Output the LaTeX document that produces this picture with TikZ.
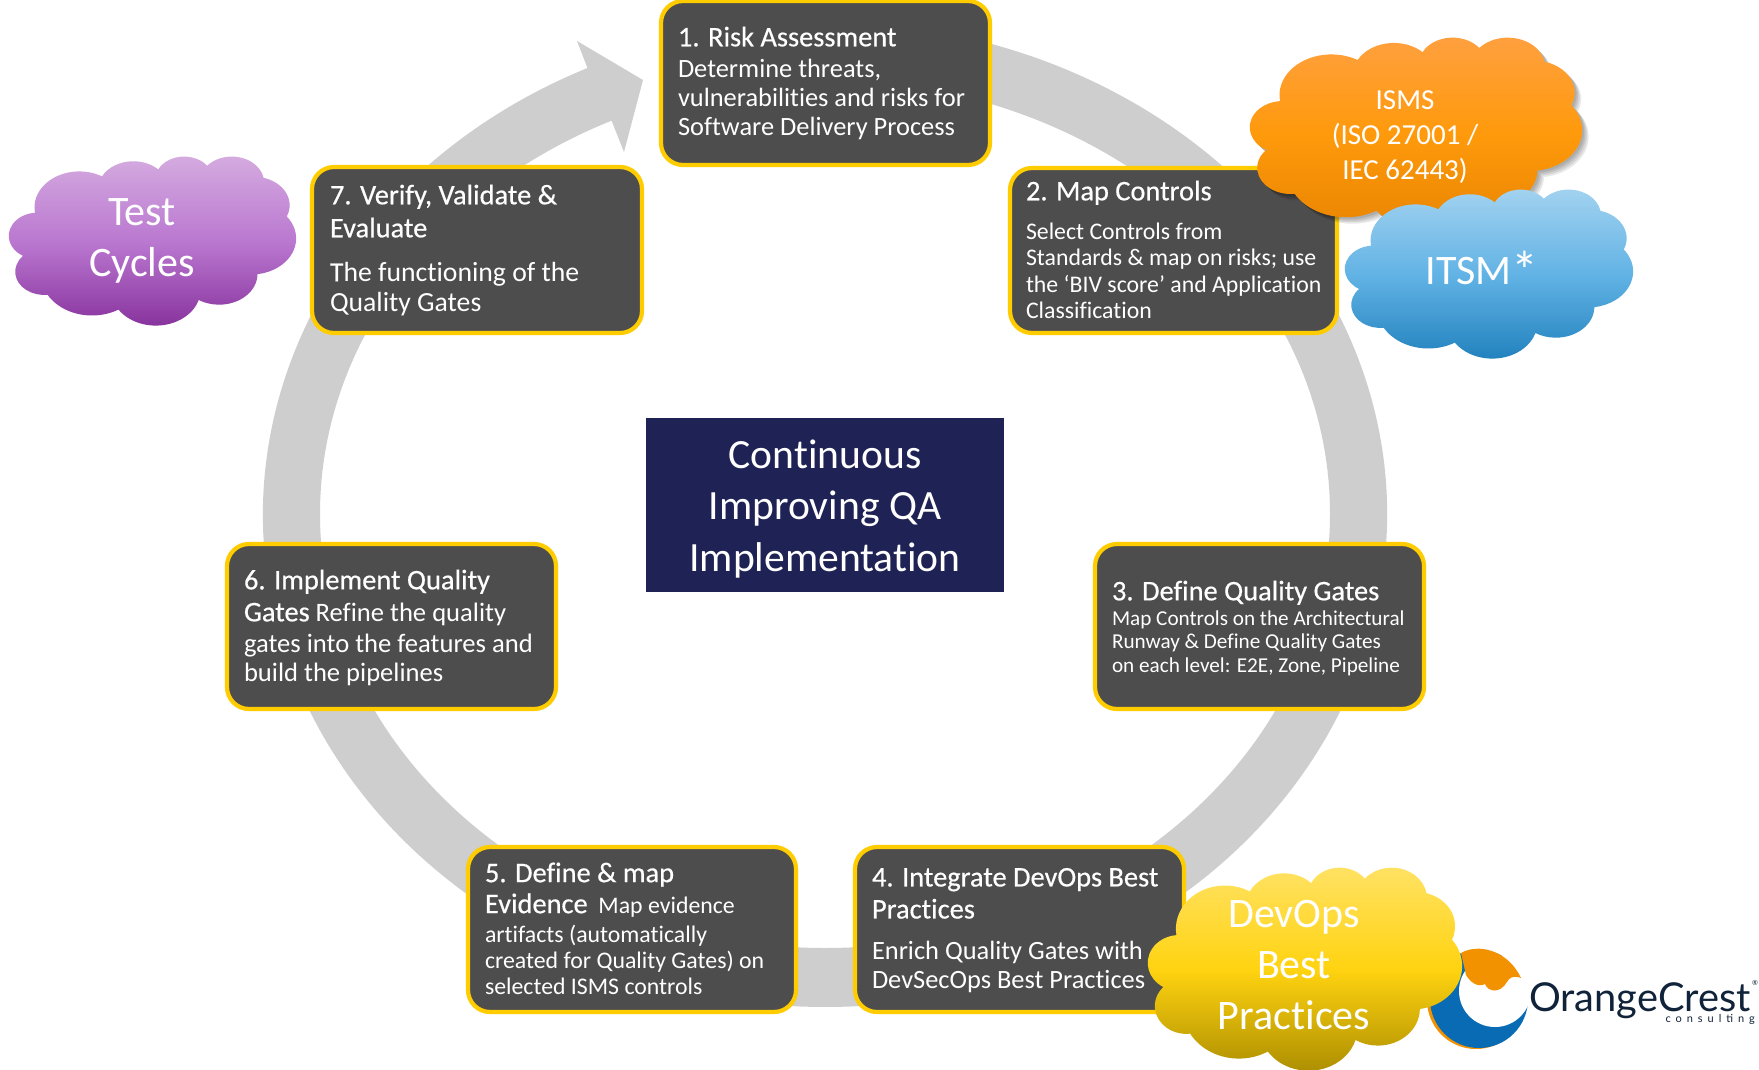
\documentclass[tikz,border=0pt]{standalone}
\usepackage{fontspec}
\setmainfont[Ligatures=NoCommon]{Carlito}
\newfontfamily\hd[FakeBold=0.5,Ligatures=NoCommon]{Carlito}
\newfontfamily\logofont{Lato}
\newfontfamily\logosmall[LetterSpace=45]{Lato}
\def\cloudpathtxt{(39,143.7)}
\newcommand\addarc[4]{%
  \pgfmathsetmacro\tA{atan2(#1*sin(#3),#2*cos(#3))}%
  \pgfmathsetmacro\tB{atan2(#1*sin(#3+#4),#2*cos(#3+#4))}%
  \pgfmathsetmacro\dT{mod(\tB-\tA+720,360)}%
  \xdef\cloudpathtxt{\cloudpathtxt arc[start angle=\tA, delta angle=\dT, x radius=#1pt, y radius=#2pt] }%
}
\addarc{67.53}{91.90}{-190.4875}{123.7805}
\addarc{53.33}{72.67}{-144.1024}{89.9452}
\addarc{43.65}{59.45}{-145.8079}{99.7230}
\addarc{48.57}{65.95}{-130.9861}{117.2417}
\addarc{53.33}{72.73}{-78.7089}{109.0269}
\addarc{67.75}{92.20}{-46.2673}{130.2690}
\addarc{57.85}{78.67}{0.6250}{114.0333}
\addarc{67.52}{92.15}{22.4516}{115.1726}
\addarc{77.20}{105.43}{66.2426}{75.7110}
\addarc{43.60}{59.18}{-274.9421}{146.7356}
\addarc{43.45}{59.45}{-246.8285}{152.5189}
\newcommand\cloudshape[5]{%
  \begin{scope}[shift={(#1,#2)},x=1pt,y=1pt,xscale=#3/432,yscale=-#4/432]
    \path[#5] \cloudpathtxt -- cycle;
  \end{scope}}
\newcommand\qboxat[5]{%
  \node[qbox,minimum width=#4-#2,minimum height=#5-#3,anchor=north west] (#1) at (#2,#3) {};}
\newcommand\hdt{\hd\fontsize{28.4}{30}\selectfont}
\definecolor{ring}{HTML}{CECECE}
\definecolor{boxfill}{HTML}{4D4D4D}
\definecolor{boxline}{HTML}{FFCC00}
\definecolor{navy}{HTML}{1F2254}
\definecolor{logoblue}{HTML}{0A6BB5}
\definecolor{logoorange}{HTML}{F39200}
\definecolor{logotext}{HTML}{10233A}
\tikzset{
  qbox/.style={draw=boxline,fill=boxfill,line width=4.2pt,rounded corners=22pt,inner sep=0pt,outer sep=0pt},
  qtext/.style={text=white,anchor=north west,align=left,inner sep=0pt,outer sep=0pt},
  cloudtext/.style={text=white,align=center,inner sep=0pt},
}
\definecolor{orgA}{HTML}{FFA040}
\definecolor{orgB}{HTML}{FF9A0C}
\definecolor{orgC}{HTML}{E88400}
\definecolor{bluA}{HTML}{A4D3F0}
\definecolor{bluB}{HTML}{62B3E5}
\definecolor{bluC}{HTML}{1F80BC}
\definecolor{purA}{HTML}{D5ACE0}
\definecolor{purB}{HTML}{BA78D0}
\definecolor{purC}{HTML}{86309B}
\definecolor{yelA}{HTML}{FFE266}
\definecolor{yelB}{HTML}{FFD310}
\definecolor{yelC}{HTML}{AA8C00}
\begin{document}
\begin{tikzpicture}[x=1pt,y=-1pt]
\path[fill=white,use as bounding box] (0,0) rectangle (1759,1070);
% ring with arrow head
\path[fill=ring] (587.5,68) arc[start angle=115,end angle=450,x radius=562pt,y radius=492.5pt]
  -- (825,80) arc[start angle=450,end angle=115,x radius=505pt,y radius=434pt]
  -- (624,152) -- (643,80) -- (577,41) -- cycle;
% boxes
\qboxat{b1}{661}{1}{990}{165}
\qboxat{b2}{1010}{168}{1337}{333}
\qboxat{b3}{1095}{544}{1424}{709}
\qboxat{b4}{855}{847}{1184}{1012}
\qboxat{b5}{468}{847}{796}{1012}
\qboxat{b6}{227}{544}{556}{709}
\qboxat{b7}{312}{167}{642}{333}
% centre
\node[fill=navy,minimum width=358pt,minimum height=174pt,inner sep=0pt] (centre) at (825,505) {};
\node[text=white,align=center,inner sep=0pt,font=\fontsize{41.6}{51.5}\selectfont] (centretext) at (825,509) {Continuous\\Improving QA\\Implementation};
% box texts
\node[qtext,font=\fontsize{26.4}{29.2}\selectfont] (t1) at (678,26.6) {{\hdt 1. Risk Assessment}\\[2pt]Determine threats,\\vulnerabilities and risks for\\Software Delivery Process};
\node[qtext,font=\fontsize{23.8}{26.5}\selectfont] (t2) at (1026,180.6) {{\hdt 2. Map Controls}\\[12.5pt]Select Controls from\\Standards \& map on risks; use\\the ‘BIV score’ and Application\\Classification};
\node[qtext,font=\fontsize{21.2}{23.5}\selectfont] (t3) at (1112,580.6) {{\hdt 3. Define Quality Gates}\\[1.5pt]Map Controls on the Architectural\\Runway \& Define Quality Gates\\on each level: E2E, Zone, Pipeline};
\node[qtext,font=\fontsize{26.4}{29}\selectfont] (t4) at (872,868) {{\hdt 4. Integrate DevOps Best}\\[3pt]{\hdt Practices}\\[12pt]Enrich Quality Gates with\\DevSecOps Best Practices};
\node[qtext,font=\fontsize{23.8}{26}\selectfont] (t5) at (485,862.6) {{\hdt 5. Define \& map}\\[5pt]{\hdt Evidence}\ \ Map evidence\\[3pt]artifacts (automatically\\created for Quality Gates) on\\selected ISMS controls};
\node[qtext,font=\fontsize{26.6}{30}\selectfont] (t6) at (244,569.6) {{\hdt 6. Implement Quality}\\[2pt]{\hdt Gates} Refine the quality\\[1pt]gates into the features and\\[-1pt]build the pipelines};
\node[qtext,font=\fontsize{27.7}{30}\selectfont] (t7) at (330,184.6) {{\hdt 7. Verify, Validate \&}\\[3pt]{\hdt Evaluate}\\[14pt]{\hd T}he functioning of the\\Quality Gates};
% ISMS cloud
\foreach \o in {2,3.5,5,6.5}{\cloudshape{1250+\o}{37+\o}{332}{191}{fill=black,fill opacity=0.09}}
\cloudshape{1250}{37}{332}{191}{top color=orgA,bottom color=orgC,middle color=orgB}
\node[cloudtext,font=\fontsize{29}{35.2}\selectfont] (isms) at (1405,137) {ISMS\\(ISO 27001 /\\IEC 62443)};
% ITSM cloud
\cloudshape{1345}{189}{288}{169}{top color=bluA,bottom color=bluC,middle color=bluB}
\node[cloudtext,font=\fontsize{42}{50}\selectfont] (itsm) at (1482,270) {ITSM{\fontsize{54}{50}\selectfont\raisebox{-5pt}{*}}};
% Test cycles cloud
\cloudshape{9}{156}{287}{169}{top color=purA,bottom color=purC,middle color=purB}
\node[cloudtext,font=\fontsize{42}{51}\selectfont] (test) at (142,241) {Test\\Cycles};
% logo
\fill[logoorange] (1476,1000) circle[radius=49pt];
\fill[logoblue] (1479,999) circle[radius=49pt];
\fill[white] (1495,991) circle[radius=36pt];
\fill[logoorange] (1461,953) .. controls (1478,943) and (1508,950) .. (1521,978)
  .. controls (1513,975) and (1509,978) .. (1507,982)
  .. controls (1500,994) and (1488,992) .. (1485,984)
  .. controls (1478,988) and (1470,982) .. (1466,975) -- cycle;
\node[text=logotext,font=\logofont\fontsize{39.8}{40}\selectfont,anchor=base east,inner sep=0pt] (logo) at (1751,1011) {OrangeCrest};
\node[text=logotext,font=\logosmall\fontsize{11}{12}\selectfont,anchor=base east,inner sep=0pt] (consulting) at (1755,1022) {consulting};
\node[text=logotext,font=\logofont\fontsize{7}{8}\selectfont,anchor=center,inner sep=0pt] (reg) at (1755,983) {®};
% DevOps cloud
\cloudshape{1148}{867}{314}{203}{top color=yelA,bottom color=yelC,middle color=yelB}
\node[cloudtext,font=\fontsize{42}{51}\selectfont] (devops) at (1294,965) {DevOps\\Best\\Practices};
\end{tikzpicture}
\end{document}
